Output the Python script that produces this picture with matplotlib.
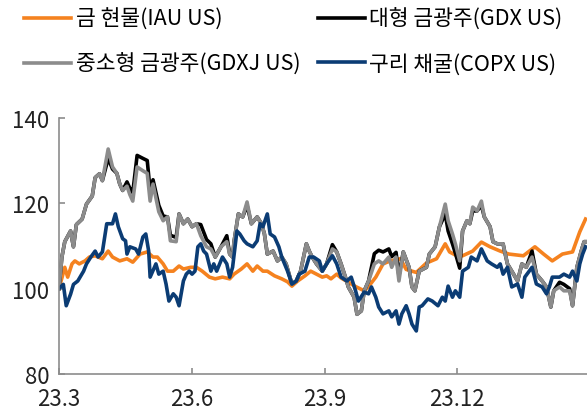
import matplotlib
matplotlib.use("Agg")
import matplotlib.pyplot as plt
import matplotlib.dates as mdates
import pandas as pd

plt.rcParams['font.family'] = ['Noto Sans CJK KR', 'DejaVu Sans']

# 금광주 (GDX / GDXJ) 공통 날짜
miner_dates = ["2023-03-01", "2023-03-03", "2023-03-05", "2023-03-09", "2023-03-11", "2023-03-13",
               "2023-03-17", "2023-03-20", "2023-03-24", "2023-03-26", "2023-03-29", "2023-03-31",
               "2023-04-04", "2023-04-07", "2023-04-10", "2023-04-12", "2023-04-14", "2023-04-17",
               "2023-04-19", "2023-04-21", "2023-04-24", "2023-04-28", "2023-05-01", "2023-05-03",
               "2023-05-05", "2023-05-09", "2023-05-12", "2023-05-15", "2023-05-17", "2023-05-21",
               "2023-05-23", "2023-05-26", "2023-05-29", "2023-06-01", "2023-06-04", "2023-06-07",
               "2023-06-11", "2023-06-14", "2023-06-17", "2023-06-21", "2023-06-25", "2023-06-27",
               "2023-06-29", "2023-06-30", "2023-07-03", "2023-07-06", "2023-07-09", "2023-07-12",
               "2023-07-16", "2023-07-19", "2023-07-21", "2023-07-23", "2023-07-27", "2023-07-30",
               "2023-08-02", "2023-08-05", "2023-08-09", "2023-08-12", "2023-08-15", "2023-08-19",
               "2023-08-21", "2023-08-23", "2023-08-26", "2023-08-30", "2023-09-02", "2023-09-06",
               "2023-09-09", "2023-09-12", "2023-09-15", "2023-09-17", "2023-09-21", "2023-09-23",
               "2023-09-26", "2023-09-28", "2023-10-01", "2023-10-05", "2023-10-08", "2023-10-11",
               "2023-10-15", "2023-10-17", "2023-10-20", "2023-10-22", "2023-10-25", "2023-10-29",
               "2023-10-31", "2023-11-02", "2023-11-05", "2023-11-10", "2023-11-12", "2023-11-16",
               "2023-11-19", "2023-11-23", "2023-11-25", "2023-11-28", "2023-11-30", "2023-12-03",
               "2023-12-05", "2023-12-08", "2023-12-10", "2023-12-12", "2023-12-15", "2023-12-18",
               "2023-12-20", "2023-12-24", "2023-12-26", "2023-12-29", "2024-01-02", "2024-01-03",
               "2024-01-05", "2024-01-08", "2024-01-12", "2024-01-15", "2024-01-18", "2024-01-22",
               "2024-01-25", "2024-01-29", "2024-02-01", "2024-02-04", "2024-02-06", "2024-02-10",
               "2024-02-13", "2024-02-17", "2024-02-19", "2024-02-22", "2024-02-25", "2024-02-27",
               "2024-02-28"]

gdxj = [100, 107.4, 111, 113.5, 109.8, 115, 116.3, 119.8, 121.7, 126, 126.9, 125.3,
        132.7, 128.5, 127, 124.5, 123, 124, 122, 120.5, 128.5, 127.6, 127, 120.5,
        124.5, 118, 115.9, 116.8, 111.2, 111, 117.5, 115.2, 116.3, 114.5, 115.2, 112.4,
        109.8, 109.3, 107.4, 109.8, 111, 108.1, 107.4, 111, 117.5, 116.8, 120.3, 115.2,
        116.8, 115.2, 112.8, 108.1, 108.8, 106.5, 107.4, 105.8, 101.1, 101.8, 104.1, 110.5,
        108.8, 107.4, 105.8, 104.1, 105.8, 109.3, 108.6, 105.8, 102.7, 100.4, 98, 94,
        94.8, 99.5, 101.8, 105.8, 106.5, 105.8, 107.4, 105, 107.4, 101.8, 108.6, 105,
        100.4, 99.5, 104.1, 105, 108.1, 109.8, 114.5, 119.8, 115.9, 112.8, 110.5, 106.5,
        113.5, 115.9, 115.2, 119.1, 118.2, 120.5, 116.8, 114.5, 111, 110.5, 110.5, 108.8,
        105.8, 104.1, 101.8, 105.8, 105, 107.4, 103.4, 101.8, 100.4, 95.7, 99.5, 100.4,
        99.5, 99.5, 96, 105, 108.8, 111, 111]

gdx = [100, 107.4, 111, 113.5, 109.8, 115, 116.3, 119.8, 121.7, 126, 126.9, 125.3,
       130.5, 128, 127, 124.5, 123, 125, 123.5, 122.5, 131.2, 130.5, 130, 123,
       125.5, 119.5, 117, 116.8, 112.5, 112, 117.5, 115.2, 116.3, 114.5, 115.2, 115,
       111.5, 110.5, 107.4, 109.8, 112.4, 108.1, 107.4, 111, 117.5, 116.8, 119.5, 115.2,
       116.8, 115.2, 112.8, 108.1, 108.8, 106.5, 107.4, 105.8, 101.1, 101.8, 104.1, 110.5,
       108.8, 107.4, 105.8, 104.1, 105.8, 110.3, 108.6, 105.8, 102.7, 100.4, 98, 94,
       94.8, 99.5, 101.8, 108.2, 109, 108.6, 109.3, 107.5, 108.5, 103, 108.6, 105,
       100.4, 99.5, 104.1, 105, 108.1, 109.8, 114.5, 117.5, 113.5, 110.5, 108.3, 104.8,
       113.5, 115.9, 115.2, 118.2, 118.2, 119.5, 116.8, 114.5, 111, 110.5, 110.5, 108.8,
       105.8, 104.1, 101.8, 105.8, 105, 108.8, 103.4, 101.8, 100.4, 95.7, 99.5, 101.5,
       101, 100, 96, 105, 108.8, 111, 111]

iau_dates = ["2023-03-01", "2023-03-05", "2023-03-07", "2023-03-10", "2023-03-12", "2023-03-15",
             "2023-03-19", "2023-03-22", "2023-03-26", "2023-03-31", "2023-04-04", "2023-04-07",
             "2023-04-12", "2023-04-17", "2023-04-21", "2023-04-26", "2023-05-01", "2023-05-05",
             "2023-05-08", "2023-05-12", "2023-05-15", "2023-05-19", "2023-05-23", "2023-05-26",
             "2023-05-31", "2023-06-04", "2023-06-08", "2023-06-13", "2023-06-17", "2023-06-22",
             "2023-06-27", "2023-06-30", "2023-07-05", "2023-07-09", "2023-07-13", "2023-07-16",
             "2023-07-20", "2023-07-23", "2023-07-28", "2023-08-02", "2023-08-06", "2023-08-09",
             "2023-08-13", "2023-08-18", "2023-08-22", "2023-08-26", "2023-08-30", "2023-09-02",
             "2023-09-05", "2023-09-09", "2023-09-12", "2023-09-17", "2023-09-22", "2023-09-28",
             "2023-10-01", "2023-10-06", "2023-10-11", "2023-10-16", "2023-10-23", "2023-10-27",
             "2023-11-03", "2023-11-10", "2023-11-17", "2023-11-23", "2023-11-26", "2023-12-01",
             "2023-12-05", "2023-12-12", "2023-12-18", "2023-12-24", "2023-12-31", "2024-01-06",
             "2024-01-16", "2024-01-24", "2024-01-30", "2024-02-05", "2024-02-12", "2024-02-19",
             "2024-02-24", "2024-02-28"]

iau = [100, 105, 102.7, 105.8, 106.5, 105.8, 106.5, 107.4, 107.7, 107, 108.8, 107.4,
       106.5, 107, 106.2, 108.1, 108.6, 107.4, 107.4, 105.8, 104.1, 104.1, 105.3, 104.6,
       105, 105, 104.1, 102.7, 102.3, 102.7, 102.3, 103.4, 104.6, 105.8, 104.1, 105.3,
       104.1, 104.1, 103, 102.3, 101.6, 100.6, 101.8, 103, 104.1, 103.4, 102.7, 103,
       102.3, 103.4, 102.5, 101.5, 100.5, 99.5, 100.5, 102.7, 105.8, 106.5, 107, 104.5,
       103.8, 106, 107, 110.5, 108.6, 107.7, 107.7, 108.8, 110.9, 109.8, 108.8, 108.1,
       107.7, 109.8, 108.1, 106.5, 108.1, 108.6, 113.3, 116.3]

copx_dates = ["2023-03-01", "2023-03-04", "2023-03-06", "2023-03-09", "2023-03-11", "2023-03-14",
              "2023-03-18", "2023-03-20", "2023-03-23", "2023-03-26", "2023-03-28", "2023-03-31",
              "2023-04-03", "2023-04-07", "2023-04-09", "2023-04-11", "2023-04-14", "2023-04-16",
              "2023-04-17", "2023-04-19", "2023-04-23", "2023-04-25", "2023-04-28", "2023-04-30",
              "2023-05-02", "2023-05-03", "2023-05-07", "2023-05-09", "2023-05-12", "2023-05-14",
              "2023-05-16", "2023-05-19", "2023-05-21", "2023-05-23", "2023-05-26", "2023-05-28",
              "2023-05-30", "2023-06-01", "2023-06-03", "2023-06-05", "2023-06-07", "2023-06-09",
              "2023-06-11", "2023-06-14", "2023-06-16", "2023-06-18", "2023-06-22", "2023-06-25",
              "2023-06-27", "2023-06-29", "2023-07-02", "2023-07-04", "2023-07-07", "2023-07-09",
              "2023-07-13", "2023-07-16", "2023-07-18", "2023-07-20", "2023-07-23", "2023-07-25",
              "2023-07-28", "2023-07-31", "2023-08-02", "2023-08-06", "2023-08-09", "2023-08-12",
              "2023-08-14", "2023-08-18", "2023-08-21", "2023-08-24", "2023-08-28", "2023-08-30",
              "2023-09-02", "2023-09-06", "2023-09-09", "2023-09-12", "2023-09-16", "2023-09-19",
              "2023-09-22", "2023-09-24", "2023-09-28", "2023-10-01", "2023-10-03", "2023-10-06",
              "2023-10-08", "2023-10-11", "2023-10-15", "2023-10-17", "2023-10-20", "2023-10-22",
              "2023-10-24", "2023-10-27", "2023-10-29", "2023-10-31", "2023-11-03", "2023-11-05",
              "2023-11-07", "2023-11-11", "2023-11-14", "2023-11-18", "2023-11-21", "2023-11-23",
              "2023-11-25", "2023-11-28", "2023-11-30", "2023-12-03", "2023-12-05", "2023-12-09",
              "2023-12-11", "2023-12-15", "2023-12-18", "2023-12-22", "2023-12-25", "2023-12-29",
              "2023-12-31", "2024-01-02", "2024-01-05", "2024-01-08", "2024-01-12", "2024-01-15",
              "2024-01-17", "2024-01-20", "2024-01-22", "2024-01-25", "2024-01-29", "2024-02-01",
              "2024-02-03", "2024-02-05", "2024-02-10", "2024-02-13", "2024-02-17", "2024-02-19",
              "2024-02-22", "2024-02-24", "2024-02-26", "2024-02-28"]

copx = [100, 101, 96, 98.7, 101, 101.8, 104.1, 105.8, 107.4, 108.8, 107.4, 108.6,
        115.2, 115.2, 117.5, 114.5, 111.7, 111.2, 108.1, 109.8, 109.3, 108.1, 112.1, 112.8,
        108.8, 102.7, 105.8, 103.4, 104.1, 101.1, 97.1, 98.8, 98, 96, 101.8, 103.4,
        104.1, 103.4, 104.1, 109.8, 110.5, 108.8, 108.1, 104.1, 105.8, 104.1, 107.4, 105.8,
        102.7, 105, 113.5, 112.8, 111.2, 110.5, 109.8, 111.2, 115.2, 114.5, 117.5, 112.8,
        112.1, 109.8, 107.4, 104.1, 101.1, 101.8, 103.4, 104.1, 107.4, 107.4, 106.5, 104.1,
        105.8, 107.7, 105.8, 102.7, 101.8, 102.7, 99.5, 97.1, 99.2, 98.8, 100.4, 98,
        95.7, 94.1, 94.8, 93.4, 94.8, 91.7, 94.1, 96, 94.1, 91.7, 90.1, 95.7,
        96, 97.6, 97.1, 96, 98, 97.1, 100.6, 98, 99.5, 98, 104.1, 105,
        107.4, 106.5, 109.3, 106.5, 105.8, 105, 105.8, 103.4, 105, 100.4, 101.1, 98,
        102.7, 104.1, 105, 101.1, 100.4, 98.8, 100.4, 102.7, 102.7, 103.4, 102.7, 104.1,
        101.8, 105.8, 108.1, 109.8]

tick_dates = ["2023-03-01", "2023-06-01", "2023-09-01", "2023-12-01"]
tick_labels = ["23.3", "23.6", "23.9", "23.12"]

fig = plt.figure(figsize=(5.87, 4.14), dpi=100)
ax = fig.add_axes([0.1005, 0.094, 0.8995, 0.619])

lw = 2.6
ax.plot(pd.to_datetime(iau_dates), iau, color="#f5821f", lw=lw, label="금 현물(IAU US)")
ax.plot(pd.to_datetime(miner_dates), gdx, color="#000000", lw=lw, label="대형 금광주(GDX US)")
ax.plot(pd.to_datetime(miner_dates), gdxj, color="#8c8c8c", lw=lw, label="중소형 금광주(GDXJ US)")
ax.plot(pd.to_datetime(copx_dates), copx, color="#0b3c74", lw=lw, label="구리 채굴(COPX US)")

ax.set_ylim(80, 140)
ax.set_yticks([80, 100, 120, 140])
ax.set_xlim(pd.Timestamp("2023-03-01"), pd.Timestamp("2024-02-29"))
ax.set_xticks(pd.to_datetime(tick_dates))
ax.set_xticklabels(tick_labels)

for s in ["top", "right"]:
    ax.spines[s].set_visible(False)
for s in ["left", "bottom"]:
    ax.spines[s].set_color("#8c8c8c")
    ax.spines[s].set_linewidth(1.2)
ax.tick_params(axis="both", direction="in", color="#8c8c8c", width=1.2, length=4,
               labelsize=16, labelcolor="#222222")
ax.tick_params(axis="y", pad=7)
ax.tick_params(axis="x", pad=9)

h, l = ax.get_legend_handles_labels()
order = [0, 2, 1, 3]
fig.legend([h[i] for i in order], [l[i] for i in order], loc="upper left",
           bbox_to_anchor=(0.008, 1.025), ncol=2, frameon=False, fontsize=15.5,
           handlelength=2.2, handletextpad=0.2, columnspacing=0.8, labelspacing=1.05)

fig.savefig("out.png", dpi=100)
